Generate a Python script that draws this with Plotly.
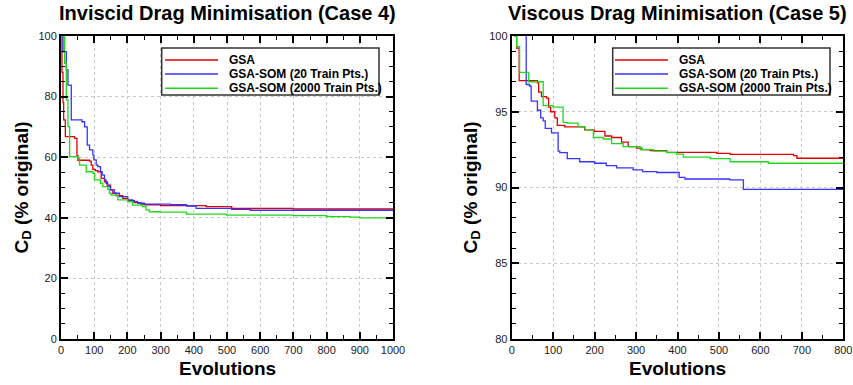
import plotly.graph_objects as go

# ---------------- data ----------------
series_names = ["GSA", "GSA-SOM (20 Train Pts.)", "GSA-SOM (2000 Train Pts.)"]
series_colors = ["#e00000", "#3535ff", "#1ed81e"]

# Case 4 (inviscid)
inv_evo_gsa = [0, 3, 6, 8, 13, 41, 48, 51, 86, 91, 96, 103, 111, 121, 131, 139, 149, 156, 166, 186,
               201, 221, 241, 253, 300, 437, 514, 700, 1000]
inv_cd_gsa = [115, 88, 78, 72.3, 66.8, 66.2, 60.5, 59.0, 58.7, 57.4, 56.0, 55.6, 55.2, 53.0, 51.9, 50.8,
              49.2, 48.1, 47.3, 46.4, 45.7, 45.0, 44.4, 44.3, 44.0, 43.7, 43.1, 42.9, 42.8]

inv_evo_som20 = [0, 6, 16, 21, 31, 63, 71, 79, 86, 96, 99, 106, 111, 119, 124, 131, 136, 141, 149, 161,
                 176, 201, 216, 231, 251, 330, 378, 407, 514, 570, 1000]
inv_cd_som20 = [115, 94.8, 88.8, 83.8, 72.3, 71.7, 70.0, 64.0, 62.4, 60.7, 59.1, 57.4, 56.9, 55.2, 54.1,
                52.5, 51.4, 50.3, 49.2, 48.1, 47.0, 45.9, 45.3, 44.8, 44.5, 44.3, 43.9, 43.1, 42.8, 42.5, 42.4]

inv_evo_som2000 = [0, 6, 11, 16, 21, 26, 51, 56, 76, 96, 101, 119, 126, 141, 146, 151, 171, 201, 216,
                   246, 256, 266, 298, 378, 499, 700, 800, 870, 900, 1000]
inv_cd_som2000 = [115, 100, 91.0, 78.9, 70.1, 60.2, 59.6, 57.4, 55.2, 54.7, 52.5, 51.4, 50.3, 49.4, 48.1,
                  47.5, 45.9, 45.3, 44.2, 43.7, 42.6, 42.0, 41.9, 41.2, 40.9, 40.7, 40.4, 40.2, 40.0, 39.9]

# Case 5 (viscous)
vis_evo_gsa = [0, 8, 12, 18, 62, 65, 72, 84, 89, 94, 104, 110, 128, 176, 199, 225, 241, 265, 281, 301,
               314, 334, 374, 495, 527, 680, 688, 800]
vis_cd_gsa = [103, 100, 99.2, 97.05, 96.9, 96.3, 96.0, 95.9, 95.3, 95.0, 94.6, 94.1, 94.0, 93.8, 93.7,
              93.4, 93.3, 93.0, 92.7, 92.6, 92.5, 92.43, 92.32, 92.25, 92.19, 92.1, 91.93, 91.93]

vis_evo_som20 = [0, 35, 43, 47, 62, 70, 76, 81, 96, 112, 116, 134, 164, 200, 228, 253, 293, 316, 350,
                 404, 418, 526, 559, 800]
vis_cd_som20 = [110, 96.8, 96.7, 95.7, 95.1, 94.6, 94.4, 93.9, 93.6, 92.4, 92.3, 91.9, 91.7, 91.6, 91.45,
                91.3, 91.16, 91.05, 90.99, 90.67, 90.56, 90.5, 89.88, 89.88]

vis_evo_som2000 = [0, 7, 12, 19, 41, 76, 100, 124, 134, 160, 177, 197, 221, 241, 269, 310, 342, 374, 398,
                   414, 479, 527, 619, 800]
vis_cd_som2000 = [103, 100, 99.3, 97.6, 96.98, 95.4, 95.3, 94.3, 94.25, 94.0, 93.8, 93.3, 93.2, 92.9,
                  92.7, 92.5, 92.4, 92.3, 92.2, 92.0, 91.9, 91.7, 91.6, 91.6]

x_ticks_inv = [0, 100, 200, 300, 400, 500, 600, 700, 800, 900, 1000]
y_ticks_inv = [0, 20, 40, 60, 80, 100]
x_ticks_vis = [0, 100, 200, 300, 400, 500, 600, 700, 800]
y_ticks_vis = [80, 85, 90, 95, 100]

titles = ["Inviscid Drag Minimisation (Case 4)", "Viscous Drag Minimisation (Case 5)"]
x_title = "Evolutions"
y_title = "C<sub>D</sub> (% original)"

# ---------------- figure ----------------
FONT = "Liberation Sans, Arial, Helvetica, sans-serif"
W, H = 853, 385
fig = go.Figure()

inv = [(inv_evo_gsa, inv_cd_gsa), (inv_evo_som20, inv_cd_som20), (inv_evo_som2000, inv_cd_som2000)]
vis = [(vis_evo_gsa, vis_cd_gsa), (vis_evo_som20, vis_cd_som20), (vis_evo_som2000, vis_cd_som2000)]

for (xs, ys), name, col in zip(inv, series_names, series_colors):
    fig.add_trace(go.Scatter(x=xs, y=ys, mode="lines", name=name, showlegend=False,
                             line=dict(color=col, width=1.3, shape="hv"),
                             xaxis="x", yaxis="y"))
for (xs, ys), name, col in zip(vis, series_names, series_colors):
    fig.add_trace(go.Scatter(x=xs, y=ys, mode="lines", name=name, showlegend=False,
                             line=dict(color=col, width=1.3, shape="hv"),
                             xaxis="x2", yaxis="y2"))


def ax(domain, rng, tickvals, minor_dtick, anchor):
    return dict(domain=domain, range=rng, tickmode="array", tickvals=tickvals,
                showline=True, linecolor="black", linewidth=2, mirror="ticks",
                ticks="inside", ticklen=7, tickwidth=1.5, tickcolor="black",
                showgrid=True, gridcolor="#c8c8c8", griddash="dot", gridwidth=1,
                zeroline=False, anchor=anchor, fixedrange=True, automargin=False,
                tickfont=dict(family=FONT, size=11, color="#222"),
                minor=dict(ticks="inside", ticklen=4, tickwidth=1.2, tickcolor="black",
                           dtick=minor_dtick, tick0=rng[0], showgrid=False))


ydom = [46 / H, 349 / H]
xdom1 = [61 / W, 393 / W]
xdom2 = [511.7 / W, 843.3 / W]

fig.update_layout(
    width=W, height=H, margin=dict(l=0, r=0, t=0, b=0, autoexpand=False),
    paper_bgcolor="white", plot_bgcolor="white",
    font=dict(family=FONT, color="black"),
    xaxis=ax(xdom1, [0, 1000], x_ticks_inv, 50, "y"),
    yaxis=ax(ydom, [0, 100], y_ticks_inv, 5, "x"),
    xaxis2=ax(xdom2, [0, 800], x_ticks_vis, 50, "y2"),
    yaxis2=ax(ydom, [80, 100], y_ticks_vis, 1, "x2"),
    showlegend=False,
)

ann = []
shapes = []
for t, cx in zip(titles, [(61 + 393) / 2, (511.7 + 843.3) / 2]):
    ann.append(dict(text="<b>%s</b>" % t, x=cx / W, y=(H - 13) / H, xref="paper", yref="paper",
                    xanchor="center", yanchor="middle", showarrow=False,
                    font=dict(family=FONT, size=20, color="black")))
for cx in [(61 + 393) / 2, (511.7 + 843.3) / 2]:
    ann.append(dict(text="<b>%s</b>" % x_title, x=cx / W, y=(H - 368) / H, xref="paper", yref="paper",
                    xanchor="center", yanchor="middle", showarrow=False,
                    font=dict(family=FONT, size=19, color="black")))
for cx in [22, 471]:
    ann.append(dict(text="<b>%s</b>" % y_title, x=cx / W, y=(H - 187.5) / H, xref="paper", yref="paper",
                    xanchor="center", yanchor="middle", showarrow=False, textangle=-90,
                    font=dict(family=FONT, size=19, color="black")))

# legend boxes (drawn as layout decoration)
legend_boxes = [dict(x0=161.7, x1=379, lx0=165, lx1=218, tx=227),
                dict(x0=612.7, x1=830, lx0=615, lx1=668, tx=677)]
row_y = [60, 74, 88.3]
for lb in legend_boxes:
    shapes.append(dict(type="rect", xref="paper", yref="paper", layer="above",
                       x0=lb["x0"] / W, x1=lb["x1"] / W, y0=(H - 95) / H, y1=(H - 48) / H,
                       line=dict(color="#333", width=1.5), fillcolor="white"))
    for name, col, ry in zip(series_names, series_colors, row_y):
        shapes.append(dict(type="line", xref="paper", yref="paper", layer="above",
                           x0=lb["lx0"] / W, x1=lb["lx1"] / W, y0=(H - ry) / H, y1=(H - ry) / H,
                           line=dict(color=col, width=1.5)))
        ann.append(dict(text="<b>%s</b>" % name, x=lb["tx"] / W, y=(H - ry) / H,
                        xref="paper", yref="paper", xanchor="left", yanchor="middle",
                        showarrow=False, font=dict(family=FONT, size=12, color="black")))

fig.update_layout(annotations=ann, shapes=shapes)

fig.write_html("out.html")
